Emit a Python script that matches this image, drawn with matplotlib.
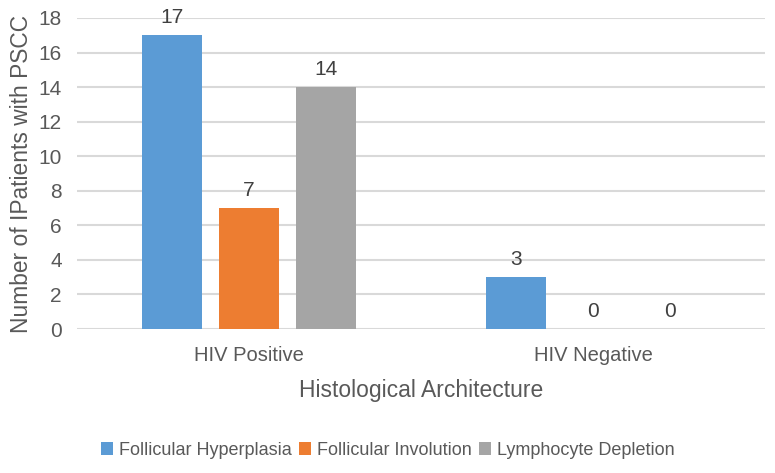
import matplotlib.pyplot as plt
import numpy as np

groups = ['HIV Positive', 'HIV Negative']
series = ['Follicular Hyperplasia', 'Follicular Involution', 'Lymphocyte Depletion']
hyperplasia = [17, 3]
involution = [7, 0]
depletion = [14, 0]

colors = ['#5B9BD5', '#ED7D31', '#A5A5A5']
txt = '#595959'

plt.rcParams['font.family'] = ['Liberation Sans', 'DejaVu Sans']

fig = plt.figure(figsize=(7.75, 4.73), dpi=100)
ax = fig.add_axes([0.0994, 0.3044, 0.8877, 0.6576])

x = np.arange(len(groups))
w = 0.174
step = 0.224
for i, (vals, name) in enumerate(zip([hyperplasia, involution, depletion], series)):
    bars = ax.bar(x + (i - 1) * step, vals, w, color=colors[i], label=name, zorder=3)
    ax.bar_label(bars, padding=6, fontsize=15, color='#404040')

ax.set_xlim(-0.5, 1.5)
ax.set_ylim(0, 18)
ax.set_yticks(np.arange(0, 19, 2))
ax.set_xticks(x)
ax.set_xticklabels(groups)
ax.yaxis.grid(True, color='#D9D9D9', linewidth=1.5, zorder=0)
ax.set_axisbelow(True)
for s in ax.spines.values():
    s.set_visible(False)
ax.tick_params(axis='both', length=0, colors=txt)
ax.tick_params(axis='y', labelsize=15, pad=11)
ax.tick_params(axis='x', labelsize=14.5, pad=12)

ax.set_xlabel('Histological Architecture', fontsize=16.5, color=txt, labelpad=10)
ax.set_ylabel('Number of IPatients with PSCC', fontsize=16.4, color=txt, labelpad=4)

fig.legend(loc='center', bbox_to_anchor=(0.5, 1 - 450 / 473), ncol=3, frameon=False,
           fontsize=13, handlelength=0.7, handleheight=0.7, handletextpad=0.3,
           columnspacing=0.4, labelcolor=txt)

fig.savefig('out.png', dpi=100)
